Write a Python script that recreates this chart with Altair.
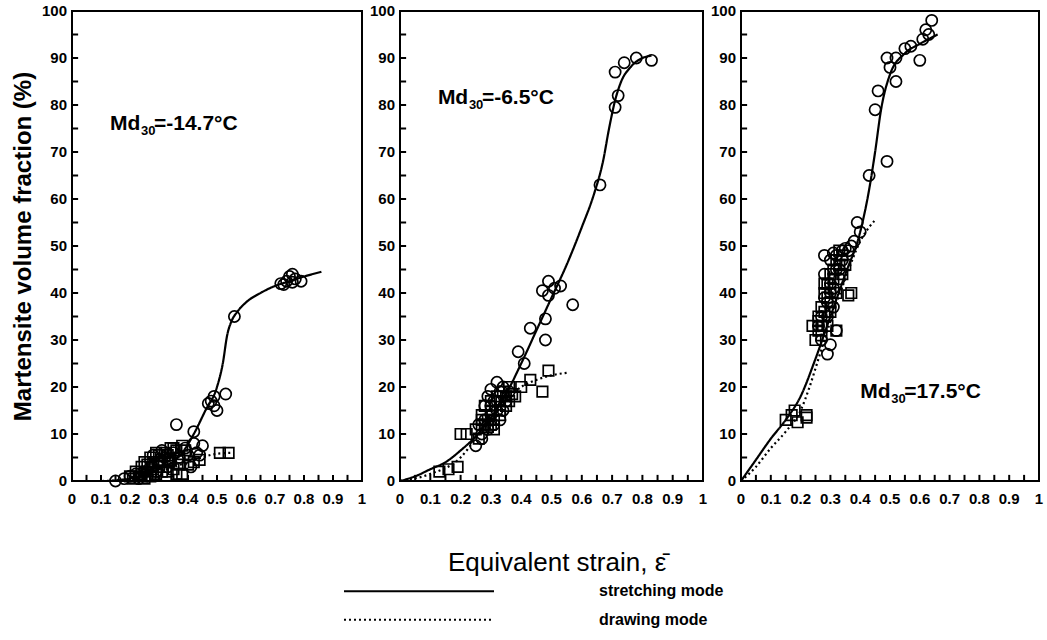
import altair as alt
import pandas as pd

FONT = "Liberation Sans"
MODES = ["stretching mode", "drawing mode"]

# ---------------- Panel 1 : Md30 = -14.7 C ----------------
p1_circ_x = [0.72, 0.74, 0.75, 0.76, 0.77, 0.79, 0.73, 0.76, 0.56, 0.53, 0.49, 0.48, 0.47, 0.50, 0.49,
             0.36, 0.42, 0.42, 0.45, 0.43, 0.40, 0.15, 0.20, 0.22, 0.25, 0.27, 0.30, 0.32, 0.35, 0.28, 0.33,
             0.18, 0.23, 0.26, 0.29, 0.31, 0.34, 0.37, 0.39, 0.41, 0.44]
p1_circ_y = [42.0, 42.5, 43.5, 44.0, 43.0, 42.5, 41.8, 42.3, 35.0, 18.5, 18.0, 17.0, 16.5, 15.0, 16.0,
             12.0, 10.5, 8.0, 7.5, 6.0, 5.5, 0.0, 1.0, 1.5, 2.0, 3.0, 4.0, 5.0, 6.0, 5.5, 3.0,
             0.5, 0.5, 1.0, 2.0, 6.5, 4.0, 5.0, 7.0, 3.0, 5.5]
p1_sq_x = [0.20, 0.22, 0.25, 0.27, 0.30, 0.32, 0.35, 0.38, 0.30, 0.33, 0.36, 0.25, 0.40, 0.42, 0.44,
           0.51, 0.54, 0.28, 0.34, 0.37, 0.21, 0.23, 0.24, 0.26, 0.28, 0.29, 0.31, 0.33, 0.34, 0.36,
           0.37, 0.39, 0.27, 0.29, 0.31, 0.33, 0.35, 0.38, 0.24, 0.26]
p1_sq_y = [1.0, 2.0, 4.0, 5.0, 5.5, 6.0, 7.0, 7.5, 3.0, 2.0, 1.5, 0.5, 3.5, 4.0, 4.5,
           6.0, 6.0, 2.5, 4.5, 5.0, 0.5, 1.0, 3.0, 2.0, 4.0, 6.0, 4.5, 5.5, 7.0, 6.5,
           3.5, 6.5, 1.0, 1.5, 2.0, 4.0, 2.5, 1.5, 1.5, 3.5]
p1_solid_x = [0.13, 0.20, 0.30, 0.38, 0.42, 0.46, 0.50, 0.52, 0.535, 0.55, 0.57, 0.60, 0.65, 0.70, 0.75, 0.80, 0.86]
p1_solid_y = [0.0, 0.5, 2.5, 6.0, 10.0, 15.0, 20.0, 25.0, 31.0, 34.0, 36.0, 38.0, 40.0, 41.5, 42.5, 43.5, 44.5]
p1_dot_x = [0.0, 0.10, 0.20, 0.30, 0.40, 0.50, 0.55]
p1_dot_y = [0.0, 0.0, 0.5, 2.0, 4.0, 5.8, 6.0]

# ---------------- Panel 2 : Md30 = -6.5 C ----------------
p2_circ_x = [0.71, 0.72, 0.71, 0.74, 0.78, 0.83, 0.66, 0.49, 0.47, 0.49, 0.51, 0.53, 0.57, 0.48, 0.48,
             0.43, 0.39, 0.41, 0.32, 0.30, 0.28, 0.26, 0.25, 0.27, 0.30, 0.33, 0.35, 0.31, 0.34, 0.29, 0.32,
             0.28, 0.29, 0.30, 0.31, 0.33, 0.34, 0.36, 0.27, 0.32]
p2_circ_y = [87.0, 82.0, 79.5, 89.0, 90.0, 89.5, 63.0, 42.5, 40.5, 39.5, 41.0, 41.5, 37.5, 34.5, 30.0,
             32.5, 27.5, 25.0, 21.0, 19.5, 16.0, 12.0, 7.5, 10.0, 14.0, 13.0, 17.0, 17.0, 20.0, 11.0, 15.0,
             13.0, 18.0, 16.0, 12.0, 19.0, 15.0, 19.0, 9.0, 17.0]
p2_sq_x = [0.13, 0.16, 0.19, 0.20, 0.43, 0.47, 0.49, 0.22, 0.25, 0.27, 0.28, 0.30, 0.31, 0.33, 0.35,
           0.37, 0.38, 0.36, 0.27, 0.29, 0.40, 0.26, 0.28, 0.29, 0.30, 0.32, 0.33, 0.34, 0.35, 0.36,
           0.31, 0.27, 0.30, 0.33]
p2_sq_y = [2.0, 2.5, 3.0, 10.0, 21.5, 19.0, 23.5, 10.0, 11.0, 14.0, 16.0, 15.0, 13.0, 17.0, 18.0,
           18.5, 18.0, 20.0, 12.0, 11.5, 20.0, 9.0, 12.0, 13.0, 17.0, 18.0, 15.0, 19.0, 16.0, 17.0,
           11.0, 13.0, 12.0, 14.0]
p2_solid_x = [0.0, 0.05, 0.10, 0.15, 0.20, 0.25, 0.30, 0.35, 0.40, 0.45, 0.50, 0.55, 0.60, 0.64, 0.67,
              0.69, 0.71, 0.73, 0.76, 0.80, 0.83]
p2_solid_y = [0.0, 1.0, 2.5, 4.0, 6.5, 9.5, 13.5, 18.5, 25.0, 32.0, 39.0, 46.0, 54.0, 61.0, 68.0,
              75.0, 81.0, 85.0, 88.0, 90.0, 90.5]
p2_dot_x = [0.0, 0.10, 0.20, 0.25, 0.30, 0.35, 0.40, 0.45, 0.50, 0.55]
p2_dot_y = [0.0, 1.5, 5.0, 9.0, 13.0, 17.0, 20.0, 21.5, 22.5, 23.0]

# ---------------- Panel 3 : Md30 = 17.5 C ----------------
p3_circ_x = [0.64, 0.62, 0.63, 0.61, 0.60, 0.57, 0.55, 0.52, 0.49, 0.50, 0.52, 0.46, 0.45, 0.49, 0.43,
             0.39, 0.38, 0.36, 0.34, 0.32, 0.28, 0.28, 0.30, 0.29, 0.32, 0.30, 0.31, 0.33, 0.35, 0.37,
             0.40, 0.27, 0.29, 0.31, 0.33, 0.26, 0.27, 0.29, 0.30, 0.31, 0.32, 0.34, 0.28, 0.30]
p3_circ_y = [98.0, 96.0, 95.0, 94.0, 89.5, 92.5, 92.0, 90.0, 90.0, 88.0, 85.0, 83.0, 79.0, 68.0, 65.0,
             55.0, 51.0, 49.0, 49.0, 48.0, 48.0, 44.0, 29.0, 27.0, 32.0, 47.0, 48.5, 43.0, 49.5, 50.0,
             53.0, 35.0, 38.0, 41.0, 45.0, 33.0, 30.0, 35.0, 40.0, 37.0, 45.0, 47.0, 39.0, 42.0]
p3_sq_x = [0.15, 0.17, 0.19, 0.22, 0.18, 0.22, 0.24, 0.26, 0.27, 0.28, 0.29, 0.30, 0.31, 0.32, 0.33,
           0.35, 0.36, 0.37, 0.27, 0.29, 0.32, 0.30, 0.34, 0.25, 0.26, 0.27, 0.28, 0.29, 0.30, 0.31,
           0.32, 0.33, 0.28, 0.30, 0.26, 0.34]
p3_sq_y = [13.0, 14.0, 12.5, 14.0, 15.0, 13.5, 33.0, 35.0, 37.0, 40.0, 42.0, 38.0, 45.0, 47.0, 49.0,
           46.0, 39.5, 40.0, 31.0, 33.0, 32.0, 36.0, 44.0, 30.0, 34.0, 33.0, 36.0, 39.0, 41.0, 43.0,
           40.0, 46.0, 42.0, 44.0, 32.0, 48.0]
p3_solid_x = [0.0, 0.05, 0.10, 0.15, 0.20, 0.25, 0.30, 0.35, 0.40, 0.43, 0.45, 0.47, 0.50, 0.55, 0.60, 0.66]
p3_solid_y = [0.0, 4.5, 9.0, 13.0, 18.0, 26.0, 35.0, 44.0, 53.0, 62.0, 70.0, 79.0, 86.5, 91.0, 93.0, 95.0]
p3_dot_x = [0.0, 0.05, 0.10, 0.15, 0.20, 0.23, 0.26, 0.30, 0.35, 0.40, 0.43, 0.45]
p3_dot_y = [0.0, 3.0, 7.0, 10.5, 15.0, 20.0, 26.0, 34.0, 43.0, 51.0, 54.0, 55.5]

label_rest = ["=-14.7\u00b0C", "=-6.5\u00b0C", "=17.5\u00b0C"]
label_x = [0.131, 0.125, 0.40]
label_y = [76.0, 81.5, 19.0]

x_labels = [0, 0.1, 0.2, 0.3, 0.4, 0.5, 0.6, 0.7, 0.8, 0.9, 1]
x_label_text = ["0", "0.1", "0.2", "0.3", "0.4", "0.5", "0.6", "0.7", "0.8", "0.9", "1"]
y_labels = [0, 10, 20, 30, 40, 50, 60, 70, 80, 90, 100]
y_label_text = ["0", "10", "20", "30", "40", "50", "60", "70", "80", "90", "100"]
x_ticks = [0.0, 0.05, 0.1, 0.15, 0.2, 0.25, 0.3, 0.35, 0.4, 0.45, 0.5, 0.55, 0.6, 0.65, 0.7,
           0.75, 0.8, 0.85, 0.9, 0.95, 1.0]
y_ticks = [0, 5, 10, 15, 20, 25, 30, 35, 40, 45, 50, 55, 60, 65, 70, 75, 80, 85, 90, 95, 100]

H = 470


def panel(cx, cy, sx, sy, lx_, ly_, dx_, dy_, rest, tx, ty, width, first):
    xs = alt.Scale(domain=[0, 1], nice=False)
    ys = alt.Scale(domain=[0, 100], nice=False)
    if first:
        yaxis = alt.Axis(labels=False, ticks=False, domain=False, grid=False,
                         title="Martensite volume fraction (%)",
                         titleFont=FONT, titleFontSize=24, titleFontWeight="bold",
                         titleColor="black", titlePadding=37)
    else:
        yaxis = None
    X = lambda f: alt.X(f, scale=xs, axis=None)
    Y = lambda f: alt.Y(f, scale=ys, axis=yaxis)

    lines = pd.DataFrame({
        "x": list(lx_) + list(dx_),
        "y": list(ly_) + list(dy_),
        "mode": [MODES[0]] * len(lx_) + [MODES[1]] * len(dx_),
    })
    line = alt.Chart(lines).mark_line(color="black", strokeWidth=2.2, interpolate="monotone").encode(
        x=X("x:Q"), y=Y("y:Q"),
        detail="mode:N",
        strokeDash=alt.StrokeDash("mode:N", scale=alt.Scale(domain=MODES, range=[[1, 0], [2, 3]]),
                                  legend=None),
    )
    circ = alt.Chart(pd.DataFrame({"x": cx, "y": cy})).mark_point(
        shape="circle", size=125, filled=False, color="black", strokeWidth=1.7, opacity=1).encode(
        x=X("x:Q"), y=Y("y:Q"))
    sq = alt.Chart(pd.DataFrame({"x": sx, "y": sy})).mark_point(
        shape="square", size=110, filled=False, color="black", strokeWidth=1.7, opacity=1).encode(
        x=X("x:Q"), y=Y("y:Q"))
    tdf = pd.DataFrame({"x": [tx], "y": [ty], "md": ["Md"], "sub": ["30"], "rest": [rest]})
    t1 = alt.Chart(tdf).mark_text(align="left", baseline="middle", font=FONT, fontSize=21,
                                  fontWeight="bold", color="black").encode(
        x=X("x:Q"), y=Y("y:Q"), text="md:N")
    t2 = alt.Chart(tdf).mark_text(align="left", baseline="middle", font=FONT, fontSize=13,
                                  fontWeight="bold", color="black", dx=31, dy=7).encode(
        x=X("x:Q"), y=Y("y:Q"), text="sub:N")
    t3 = alt.Chart(tdf).mark_text(align="left", baseline="middle", font=FONT, fontSize=21,
                                  fontWeight="bold", color="black", dx=44).encode(
        x=X("x:Q"), y=Y("y:Q"), text="rest:N")
    # inward tick marks drawn as short stroked symbols sitting on the frame
    xtd = pd.DataFrame({"tx": x_ticks, "ty": [0.0] * len(x_ticks)})
    xt = alt.Chart(xtd).mark_point(shape="M0,0L0,-1", size=150, filled=False, color="black",
                                   strokeWidth=2, opacity=1).encode(x=X("tx:Q"), y=Y("ty:Q"))
    ytd = pd.DataFrame({"ty": y_ticks, "tx": [0.0] * len(y_ticks)})
    yt = alt.Chart(ytd).mark_point(shape="M0,0L1,0", size=150, filled=False, color="black",
                                   strokeWidth=2, opacity=1).encode(x=X("tx:Q"), y=Y("ty:Q"))
    # tick labels
    xld = pd.DataFrame({"lx": x_labels, "ly": [0.0] * len(x_labels), "lt": x_label_text})
    xl = alt.Chart(xld).mark_text(align="center", baseline="top", dy=11, font=FONT, fontSize=15,
                                  fontWeight="bold", color="black").encode(
        x=X("lx:Q"), y=Y("ly:Q"), text="lt:N")
    yld = pd.DataFrame({"ly": y_labels, "lx": [0.0] * len(y_labels), "lt": y_label_text})
    yl = alt.Chart(yld).mark_text(align="right", baseline="middle", dx=-5, font=FONT, fontSize=15,
                                  fontWeight="bold", color="black").encode(
        x=X("lx:Q"), y=Y("ly:Q"), text="lt:N")
    return alt.layer(line, circ, sq, t1, t2, t3, xt, yt, xl, yl).properties(
        width=width, height=H,
        view=alt.ViewBackground(stroke="black", strokeWidth=2))


c1 = panel(p1_circ_x, p1_circ_y, p1_sq_x, p1_sq_y, p1_solid_x, p1_solid_y, p1_dot_x, p1_dot_y,
           label_rest[0], label_x[0], label_y[0], 290, True)
c2 = panel(p2_circ_x, p2_circ_y, p2_sq_x, p2_sq_y, p2_solid_x, p2_solid_y, p2_dot_x, p2_dot_y,
           label_rest[1], label_x[1], label_y[1], 303, False)
c3 = panel(p3_circ_x, p3_circ_y, p3_sq_x, p3_sq_y, p3_solid_x, p3_solid_y, p3_dot_x, p3_dot_y,
           label_rest[2], label_x[2], label_y[2], 298, False)

top = alt.hconcat(alt.hconcat(c1, c2, spacing=0), c3, spacing=0).properties(
    title=alt.TitleParams("Equivalent strain, \u03b5\u0304", orient="bottom", anchor="middle",
                          font=FONT, fontSize=26, fontWeight="normal", color="black",
                          offset=42, dx=30))

ldf = pd.DataFrame({"mode": MODES})
ly = alt.Y("mode:N", scale=alt.Scale(domain=MODES, type="point", padding=0.25), axis=None)
lrule = alt.Chart(ldf).mark_rule(color="black", strokeWidth=2).encode(
    x=alt.value(272), x2=alt.value(422), y=ly,
    strokeDash=alt.StrokeDash("mode:N", scale=alt.Scale(domain=MODES, range=[[1, 0], [2, 3]]),
                              legend=None))
ltext = alt.Chart(ldf).mark_text(align="left", baseline="middle", font=FONT, fontSize=16,
                                 fontWeight="bold", color="black").encode(
    x=alt.value(527), y=ly, text="mode:N")
legend = alt.layer(lrule, ltext).properties(width=700, height=43,
                                             view=alt.ViewBackground(stroke="transparent"))

chart = alt.vconcat(top, legend, spacing=6).properties(
    padding={"left": 10, "top": 3, "right": 1, "bottom": 0}, background="white"
).configure_view(stroke="transparent")

chart.save("out.html", embed_options={"renderer": "svg", "actions": False})
